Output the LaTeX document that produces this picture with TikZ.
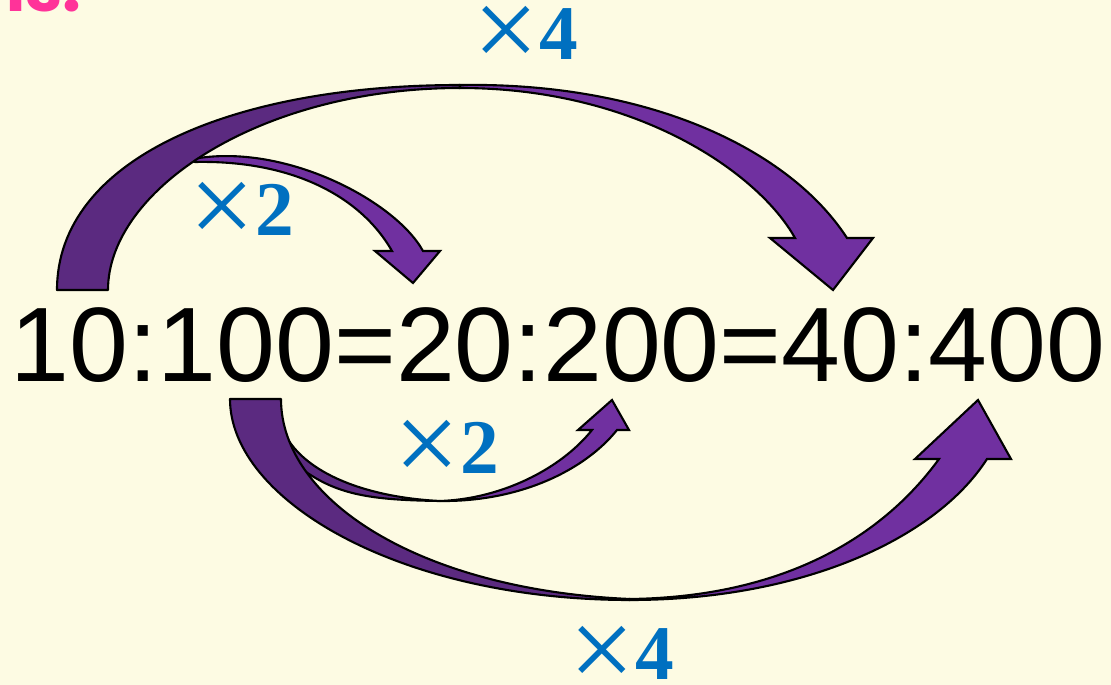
\documentclass[tikz,border=0pt]{standalone}
\usepackage{fontspec}
\setmainfont{Liberation Serif}
\newfontfamily\arialfont{Liberation Sans}
\newfontfamily\popfont{Poppins}
\usetikzlibrary{positioning}
\definecolor{bgyellow}{HTML}{FDFBE3}
\definecolor{arrowdark}{HTML}{5B2A80}
\definecolor{arrowlight}{HTML}{7030A0}
\definecolor{labelblue}{HTML}{0070C0}
\definecolor{titlepink}{HTML}{FF3399}
\newcommand{\bigtimes}{\raisebox{-2.5pt}{\fontsize{33}{36}\selectfont ×}}

\begin{document}
\begin{tikzpicture}[x=0.01cm, y=-0.01cm]
\tikzset{back/.style={fill=arrowdark, draw=black, line width=0.6pt, line join=round}}
\tikzset{front/.style={fill=arrowlight, draw=black, line width=0.6pt}}
\tikzset{times/.style={text=labelblue, font=\fontsize{22}{26}\selectfont, inner sep=0pt, anchor=base west}}
\fill[bgyellow] (0,0) rectangle (1111,685);
\useasboundingbox (0,0) rectangle (1111,685);
\begin{scope}
\clip (0,0) rectangle (1111,685);
\node[anchor=base east, inner sep=0pt, text=titlepink, font=\popfont\bfseries\fontsize{19}{22}\selectfont] (title) at (82,12) {ns:};
\end{scope}
\node[anchor=base, inner sep=0pt, font=\arialfont\fontsize{30.1}{36}\selectfont] (ratio) at (558,382) {10:100=20:200=40:400};
\draw[front] (188,160) .. controls (280,140) and (395,200) .. (423,251) -- (440,251) -- (413,283) -- (375,251) -- (392,251) .. controls (360,195) and (290,160) .. (195,162) -- cycle;
\draw[back] (283,430) .. controls (300,470) and (360,497) .. (440,501) .. controls (370,500) and (335,495) .. (298,466) -- cycle;
\draw[front] (440,501) .. controls (520,502) and (585,470) .. (617,430) -- (629,430) -- (612,400) -- (578,430) -- (592,430) .. controls (560,470) and (500,499) .. (440,501) -- cycle;
\draw[back] (57,290) .. controls (57,160) and (230,85) .. (460,85) -- (460,88) .. controls (260,88) and (108,190) .. (108,290) -- cycle;
\draw[front] (460,85) .. controls (650,82) and (790,150) .. (847,238) -- (873,238) -- (833,290) -- (770,238) -- (795,238) .. controls (760,175) and (640,88) .. (460,88) -- cycle;
\draw[back] (230,399) .. controls (230,500) and (400,600) .. (630,600) -- (630,599) .. controls (420,590) and (281,500) .. (281,399) -- cycle;
\draw[front] (630,600) .. controls (800,600) and (935,540) .. (987,459) -- (1011,459) -- (978,400) -- (915,459) -- (939,459) .. controls (880,540) and (780,597) .. (630,599) -- cycle;
\node[times] (topfour) at (473,60) {\bigtimes\textbf{4}};
\node[times] (uptwo) at (189,236) {\bigtimes\textbf{2}};
\node[times] (lowtwo) at (394,474) {\bigtimes\textbf{2}};
\node[times] (botfour) at (569,680) {\bigtimes\textbf{4}};
\end{tikzpicture}
\end{document}
